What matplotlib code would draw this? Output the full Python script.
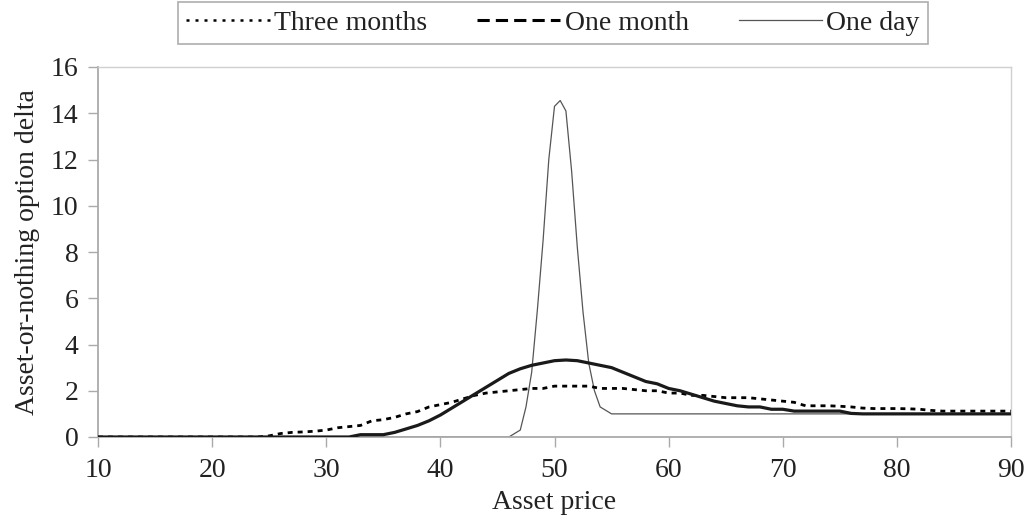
import matplotlib
matplotlib.use("Agg")
import matplotlib.pyplot as plt
from matplotlib.lines import Line2D

# ---- data ----
price = list(range(10, 91))

three_months = [0.0] * 15 + [  # 10..24
    0.05, 0.15, 0.2, 0.22, 0.25, 0.3, 0.4, 0.45, 0.5, 0.7,   # 25..34
    0.75, 0.85, 1.0, 1.1, 1.3, 1.4, 1.5, 1.65, 1.8, 1.9,     # 35..44
    1.95, 2.0, 2.05, 2.1, 2.1, 2.2, 2.2, 2.2, 2.2, 2.1,      # 45..54
    2.1, 2.1, 2.05, 2.0, 2.0, 1.9, 1.9, 1.8, 1.8, 1.75,      # 55..64
    1.7, 1.7, 1.7, 1.65, 1.6, 1.55, 1.5, 1.35, 1.35, 1.35,   # 65..74
    1.33, 1.3, 1.25, 1.23, 1.23, 1.23, 1.22, 1.2, 1.15, 1.12,  # 75..84
    1.12, 1.12, 1.12, 1.12, 1.12, 1.12]                      # 85..90

one_month = [0.0] * 23 + [  # 10..32
    0.1, 0.1, 0.1, 0.2, 0.35, 0.5, 0.7,                       # 33..39
    0.95, 1.25, 1.55, 1.85, 2.15, 2.45, 2.75, 2.95, 3.1, 3.2,  # 40..49
    3.3, 3.33, 3.3, 3.2, 3.1, 3.0, 2.8, 2.6, 2.4, 2.3,         # 50..59
    2.1, 2.0, 1.85, 1.7, 1.55, 1.45, 1.35, 1.3, 1.3, 1.2,      # 60..69
    1.2, 1.12, 1.12, 1.12, 1.12, 1.12, 1.02, 1.0, 1.0, 1.0,    # 70..79
    1.0, 1.0, 1.0, 1.0, 1.0, 1.0, 1.0, 1.0, 1.0, 1.0, 1.0]     # 80..90

one_day_price = [10, 46, 47, 47.5, 48, 48.5, 49, 49.5, 50, 50.5, 51,
                 51.5, 52, 52.5, 53, 53.5, 54, 55, 90]
one_day = [0.0, 0.0, 0.3, 1.3, 2.8, 5.5, 8.5, 12.0, 14.3, 14.55, 14.1,
           11.5, 8.2, 5.4, 3.2, 2.0, 1.3, 1.0, 1.0]

labels = ["Three months", "One month", "One day"]
xticks = [10, 20, 30, 40, 50, 60, 70, 80, 90]
yticks = [0, 2, 4, 6, 8, 10, 12, 14, 16]

# ---- style ----
plt.rcParams['font.family'] = ['Liberation Serif', 'DejaVu Serif']
FS = 20

W, H = 1026, 518
fig = plt.figure(figsize=(W / 100, H / 100), dpi=100)
ax = fig.add_axes([98 / W, 1 - 437 / H, (1011 - 98) / W, (437 - 67) / H])

ax.plot(price, three_months, color='black', lw=2.0, dashes=(1.8, 1.8),
        solid_capstyle='butt', dash_capstyle='butt', zorder=3)
ax.plot(price, one_month, color='#1a1a1a', lw=2.3, zorder=4,
        solid_joinstyle='round')
ax.plot(one_day_price, one_day, color='#555555', lw=0.9, zorder=2)

ax.set_xlim(10, 90)
ax.set_ylim(0, 16)
ax.set_xticks(xticks)
ax.set_yticks(yticks)
ax.tick_params(axis='both', direction='out', length=7, width=1.0,
               color='#aaaaaa', labelsize=FS, labelcolor='#222222')
ax.tick_params(axis='x', pad=8)
ax.tick_params(axis='y', pad=7)
for s in ['left', 'bottom']:
    ax.spines[s].set_color('#aaaaaa')
    ax.spines[s].set_linewidth(1.3)
for s in ['top', 'right']:
    ax.spines[s].set_color('#d0d0d0')
    ax.spines[s].set_linewidth(1.0)

ax.set_xlabel("Asset price", fontsize=FS, color='#222222', labelpad=5)
ax.set_ylabel("Asset-or-nothing option delta", fontsize=FS, color='#222222',
              labelpad=8)

handles = [
    Line2D([], [], color='black', lw=1.8, dashes=(1.2, 2.4)),
    Line2D([], [], color='black', lw=2.2, dashes=(4.0, 2.0)),
    Line2D([], [], color='#555555', lw=0.9),
]
leg = fig.legend(handles, labels, loc='upper center', ncol=3,
                 bbox_to_anchor=(553 / W, 1 - 2 / H), fontsize=FS,
                 frameon=True, fancybox=False, edgecolor='#999999',
                 handlelength=3.0, handletextpad=0.15, columnspacing=1.8,
                 borderpad=0.3, borderaxespad=0)
leg.get_frame().set_linewidth(1.2)
for t in leg.get_texts():
    t.set_color('#222222')

fig.savefig("out.png", dpi=100)
